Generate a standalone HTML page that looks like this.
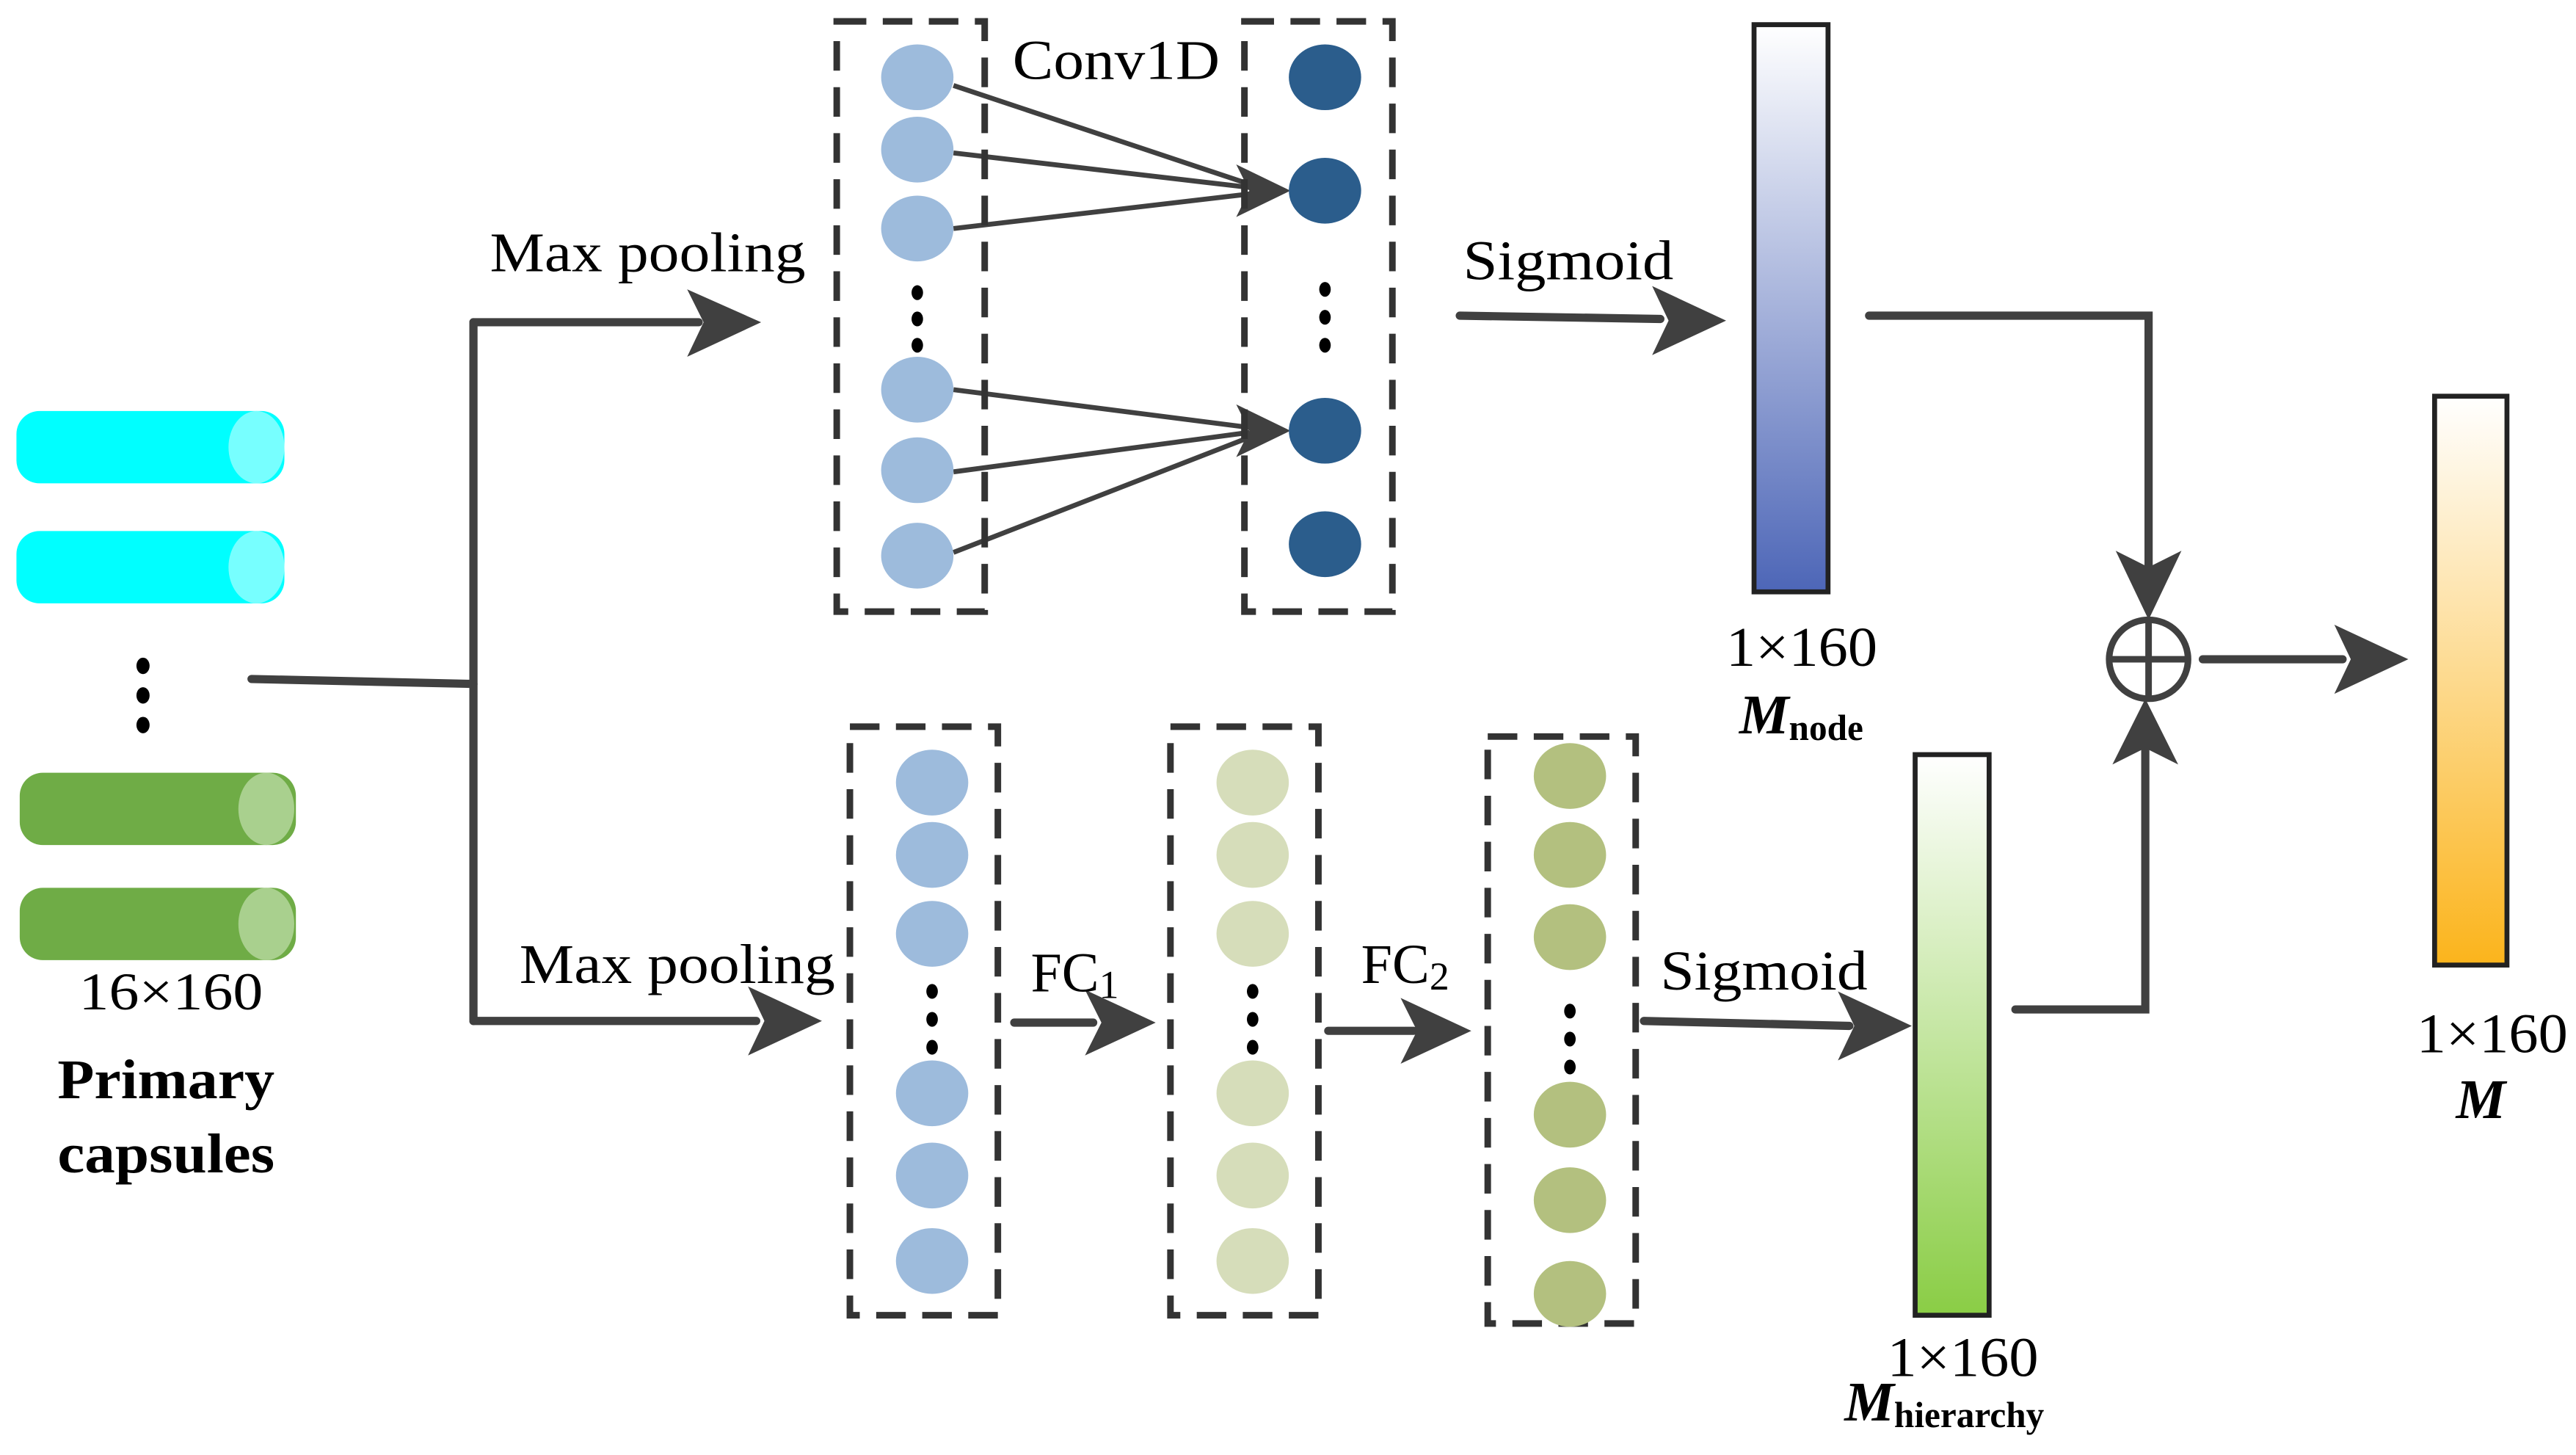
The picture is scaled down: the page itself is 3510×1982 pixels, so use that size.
<!DOCTYPE html>
<html><head><meta charset="utf-8"><style>
html,body{margin:0;padding:0;background:#fff;}
svg{display:block;}
text{font-family:"Liberation Serif",serif;fill:#000;}
</style></head><body>
<svg width="3510" height="1982" viewBox="0 0 1567 885" preserveAspectRatio="none" xmlns="http://www.w3.org/2000/svg">
<defs>
<linearGradient id="gn" x1="0" y1="0" x2="0" y2="1"><stop offset="0" stop-color="#fff"/><stop offset="1" stop-color="#4d66b7"/></linearGradient>
<linearGradient id="gh" x1="0" y1="0" x2="0" y2="1"><stop offset="0" stop-color="#fff"/><stop offset="1" stop-color="#8acd45"/></linearGradient>
<linearGradient id="gm" x1="0" y1="0" x2="0" y2="1"><stop offset="0" stop-color="#fff"/><stop offset="1" stop-color="#fbb41c"/></linearGradient>
</defs>
<g stroke="none">
<rect x="10" y="250" width="163" height="44" rx="14" fill="#00ffff"/><ellipse cx="156" cy="272" rx="17" ry="22" fill="#77ffff"/>
<rect x="10" y="323" width="163" height="44" rx="14" fill="#00ffff"/><ellipse cx="156" cy="345" rx="17" ry="22" fill="#77ffff"/>
<rect x="12" y="470" width="168" height="44" rx="14" fill="#6fac46"/><ellipse cx="162" cy="492" rx="17" ry="22" fill="#a9d08e"/>
<rect x="12" y="540" width="168" height="44" rx="14" fill="#6fac46"/><ellipse cx="162" cy="562" rx="17" ry="22" fill="#a9d08e"/>
<ellipse cx="87" cy="405" rx="4" ry="5" fill="#000"/><ellipse cx="87" cy="423" rx="4" ry="5" fill="#000"/><ellipse cx="87" cy="441" rx="4" ry="5" fill="#000"/>
</g>
<text x="48" y="614" font-size="32" textLength="112" lengthAdjust="spacingAndGlyphs">16×160</text>
<text x="35" y="668" font-size="34" font-weight="bold" textLength="132" lengthAdjust="spacingAndGlyphs">Primary</text>
<text x="35" y="713" font-size="34" font-weight="bold" textLength="132" lengthAdjust="spacingAndGlyphs">capsules</text>

<g stroke="#404040" stroke-width="5" fill="none" stroke-linecap="round">
<path d="M153 413 L288 416"/>
<path d="M288 196 L288 621"/>
<path d="M288 196 L425 196"/>
<path d="M288 621 L460 621"/>
<path d="M617 622 L665 622"/>
<path d="M808 627 L860 627"/>
<path d="M1000 621 L1125 624"/>
<path d="M888 192 L1010 194"/>
<path d="M1137 192 L1307 192 L1307 345"/>
<path d="M1226 614 L1305 614 L1305 455"/>
<path d="M1340 401 L1425 401"/>
</g>
<g stroke="#404040" stroke-width="3" fill="none">
<path d="M580 52 L760 112"/><path d="M580 93 L760 114"/><path d="M580 139 L760 118"/>
<path d="M580 237 L760 260"/><path d="M580 287 L760 263"/><path d="M580 336 L760 266"/>
</g>
<g fill="#404040">
<path d="M418 176 L463 196 L418 217 L428 196Z"/>
<path d="M455 600 L500 621 L455 642 L465 621Z"/>
<path d="M660 602 L703 622 L660 642 L670 622Z"/>
<path d="M852 607 L895 627 L852 647 L862 627Z"/>
<path d="M1118 603 L1163 624 L1118 645 L1128 624Z"/>
<path d="M1005 174 L1050 195 L1005 216 L1015 195Z"/>
<path d="M1420 380 L1465 401 L1420 422 L1430 401Z"/>
<path d="M1287 335 L1307 377 L1327 335 L1307 345Z"/>
<path d="M1285 465 L1305 425 L1325 465 L1305 455Z"/>
<path d="M752 100 L785 116 L752 132 L760 116Z"/>
<path d="M752 246 L785 262 L752 278 L760 262Z"/>
</g>
<circle cx="1307" cy="401" r="24" fill="#fff" stroke="#404040" stroke-width="4"/>
<path d="M1283 401 H1331 M1307 377 V425" stroke="#404040" stroke-width="4"/>

<g fill="none" stroke="#333" stroke-width="4" stroke-dasharray="18,10">
<rect x="509" y="13" width="90" height="359"/>
<rect x="757" y="13" width="90" height="359"/>
<rect x="517" y="442" width="90" height="358"/>
<rect x="712" y="442" width="90" height="358"/>
<rect x="905" y="448" width="90" height="357"/>
</g>
<g fill="#9dbbdc">
<ellipse cx="558" cy="47" rx="22" ry="20"/><ellipse cx="558" cy="91" rx="22" ry="20"/><ellipse cx="558" cy="139" rx="22" ry="20"/>
<ellipse cx="558" cy="237" rx="22" ry="20"/><ellipse cx="558" cy="286" rx="22" ry="20"/><ellipse cx="558" cy="338" rx="22" ry="20"/>
<ellipse cx="567" cy="476" rx="22" ry="20"/><ellipse cx="567" cy="520" rx="22" ry="20"/><ellipse cx="567" cy="568" rx="22" ry="20"/>
<ellipse cx="567" cy="665" rx="22" ry="20"/><ellipse cx="567" cy="715" rx="22" ry="20"/><ellipse cx="567" cy="767" rx="22" ry="20"/>
</g>
<g fill="#2b5d8c">
<ellipse cx="806" cy="47" rx="22" ry="20"/><ellipse cx="806" cy="116" rx="22" ry="20"/><ellipse cx="806" cy="262" rx="22" ry="20"/><ellipse cx="806" cy="331" rx="22" ry="20"/>
</g>
<g fill="#d6ddba">
<ellipse cx="762" cy="476" rx="22" ry="20"/><ellipse cx="762" cy="520" rx="22" ry="20"/><ellipse cx="762" cy="568" rx="22" ry="20"/>
<ellipse cx="762" cy="665" rx="22" ry="20"/><ellipse cx="762" cy="715" rx="22" ry="20"/><ellipse cx="762" cy="767" rx="22" ry="20"/>
</g>
<g fill="#b3c07f">
<ellipse cx="955" cy="472" rx="22" ry="20"/><ellipse cx="955" cy="520" rx="22" ry="20"/><ellipse cx="955" cy="570" rx="22" ry="20"/>
<ellipse cx="955" cy="678" rx="22" ry="20"/><ellipse cx="955" cy="730" rx="22" ry="20"/><ellipse cx="955" cy="787" rx="22" ry="20"/>
</g>
<g fill="#000">
<ellipse cx="558" cy="178" rx="3.5" ry="4.5"/><ellipse cx="558" cy="194" rx="3.5" ry="4.5"/><ellipse cx="558" cy="210" rx="3.5" ry="4.5"/>
<ellipse cx="806" cy="176" rx="3.5" ry="4.5"/><ellipse cx="806" cy="193" rx="3.5" ry="4.5"/><ellipse cx="806" cy="210" rx="3.5" ry="4.5"/>
<ellipse cx="567" cy="603" rx="3.5" ry="4.5"/><ellipse cx="567" cy="620" rx="3.5" ry="4.5"/><ellipse cx="567" cy="637" rx="3.5" ry="4.5"/>
<ellipse cx="762" cy="603" rx="3.5" ry="4.5"/><ellipse cx="762" cy="620" rx="3.5" ry="4.5"/><ellipse cx="762" cy="637" rx="3.5" ry="4.5"/>
<ellipse cx="955" cy="615" rx="3.5" ry="4.5"/><ellipse cx="955" cy="632" rx="3.5" ry="4.5"/><ellipse cx="955" cy="649" rx="3.5" ry="4.5"/>
</g>

<rect x="1067" y="15" width="45" height="345" fill="url(#gn)" stroke="#222" stroke-width="3"/>
<rect x="1165" y="459" width="45" height="341" fill="url(#gh)" stroke="#222" stroke-width="3"/>
<rect x="1481" y="241" width="44" height="346" fill="url(#gm)" stroke="#222" stroke-width="3"/>

<text x="298" y="165" font-size="34" textLength="192" lengthAdjust="spacingAndGlyphs">Max pooling</text>
<text x="316" y="598" font-size="34" textLength="192" lengthAdjust="spacingAndGlyphs">Max pooling</text>
<text x="616" y="48" font-size="34" textLength="126" lengthAdjust="spacingAndGlyphs">Conv1D</text>
<text x="890" y="170" font-size="34" textLength="128" lengthAdjust="spacingAndGlyphs">Sigmoid</text>
<text x="1010" y="602" font-size="34" textLength="126" lengthAdjust="spacingAndGlyphs">Sigmoid</text>
<text x="627" y="603" font-size="34">FC<tspan font-size="24" dy="4">1</tspan></text>
<text x="828" y="598" font-size="34">FC<tspan font-size="24" dy="4">2</tspan></text>
<text x="1050" y="405" font-size="34" textLength="92" lengthAdjust="spacingAndGlyphs">1×160</text>
<text x="1058" y="446" font-size="34" font-weight="bold" font-style="italic">M<tspan font-size="22" font-style="normal" dy="4">node</tspan></text>
<text x="1148" y="837" font-size="34" textLength="92" lengthAdjust="spacingAndGlyphs">1×160</text>
<text x="1122" y="864" font-size="34" font-weight="bold" font-style="italic">M<tspan font-size="22" font-style="normal" dy="4">hierarchy</tspan></text>
<text x="1470" y="640" font-size="34" textLength="92" lengthAdjust="spacingAndGlyphs">1×160</text>
<text x="1494" y="680" font-size="34" font-weight="bold" font-style="italic">M</text>
</svg>
</body></html>
